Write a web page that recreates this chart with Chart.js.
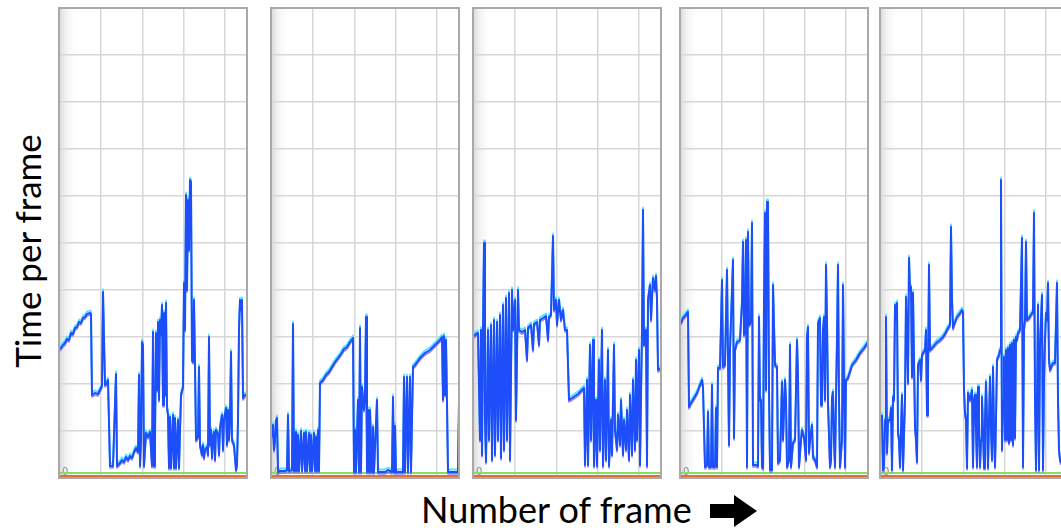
<!DOCTYPE html>
<html>
<head>
<meta charset="utf-8">
<script src="https://cdn.jsdelivr.net/npm/chart.js@4.4.1/dist/chart.umd.min.js"></script>
<style>
  html, body { margin: 0; padding: 0; background: #fff; width: 1061px; height: 528px; overflow: hidden; }
  .panel { position: absolute; top: 6px; width: 192px; height: 474px; }
  .title { position: absolute; font-family: Lato, "Open Sans", sans-serif; color: #000; white-space: nowrap; line-height: 1; }
  #ytitle { font-size: 35px; left: 27px; top: 251px; transform: translate(-50%, -50%) rotate(-90deg); }
  #xtitle { font-size: 36px; left: 421px; top: 491px; }
  #arrow { position: absolute; left: 708px; top: 494px; }
</style>
</head>
<body>
<canvas id="p1" class="panel" width="192" height="474" style="left:57px"></canvas>
<canvas id="p2" class="panel" width="192" height="474" style="left:269px"></canvas>
<canvas id="p3" class="panel" width="192" height="474" style="left:471px"></canvas>
<canvas id="p4" class="panel" width="192" height="474" style="left:678px"></canvas>
<canvas id="p5" class="panel" width="192" height="474" style="left:878px"></canvas>

<div id="ytitle" class="title">Time per frame</div>
<div id="xtitle" class="title">Number of frame</div>
<svg id="arrow" width="52" height="34" viewBox="0 0 52 34">
  <polygon points="2,10 26,10 26,1 49,17 26,33 26,24 2,24" fill="#000"/>
</svg>

<script>
// Frame time captures, five sessions. Time in ms per frame.
const frames1 = [1,4,6,8,10,12,14,16,18,20,22,24,26,28,31,32,33,36,39,41,43,44,46,48,49,51,54,57,58,61,63,65,67,69,71,73,75,77,79,80,81,82,83,84,85,87,89,91,93,94,95,96,97,98,99,100,101,102,103,104,105,106,107,108,109,110,111,112,114,115,116,117,119,120,122,124,125,126,127,128,129,130,131,132,133,134,135,136,137,139,140,141,143,144,145,146,148,149,150,151,152,153,154,155,156,157,159,160,161,163,164,165,167,168,169,170,171,172,173,175,177,178,179,180,181,182,183,184,186,189];
const times1  = [25.8,26.6,27.0,27.8,27.6,29.0,28.8,30.0,30.2,31.2,31.0,32.0,32.2,32.8,33.0,32.8,16.6,17.0,16.8,17.6,18.4,37.2,18.6,19.0,19.6,2.4,2.4,20.8,2.4,3.0,3.6,3.2,4.2,3.6,4.4,4.0,5.2,6.0,5.2,20.6,2.4,7.6,27.2,26.6,2.4,9.0,8.2,9.2,2.4,29.2,2.4,7.6,29.0,17.6,31.2,15.6,31.6,28.6,34.6,14.6,33.0,16.6,35.0,14.2,12.6,2.0,12.2,2.0,12.6,2.0,12.0,2.0,11.6,2.0,16.6,18.2,39.0,29.6,56.6,37.6,55.6,45.6,59.6,59.2,23.6,23.2,35.6,22.8,7.6,8.2,22.2,6.6,4.6,6.6,4.0,5.6,6.2,4.6,28.2,6.6,9.6,4.0,8.2,9.2,3.6,9.6,8.8,4.6,10.0,12.6,5.6,11.6,14.0,6.6,13.6,7.6,11.6,25.2,7.6,6.6,1.6,2.6,11.6,29.6,35.6,33.6,35.6,16.0,16.6,16.8];

const frames2 = [1,2,3,4,5,6,7,9,14,16,17,18,21,22,23,24,25,26,27,28,30,31,33,34,35,36,38,39,40,41,43,44,45,46,47,48,49,52,55,58,61,64,67,70,73,76,79,82,83,84,85,87,88,89,90,91,93,94,95,96,97,98,99,101,102,103,106,107,114,117,121,122,123,124,125,132,133,134,136,137,139,140,142,144,149,154,159,164,169,171,172,173,174,175,176,177,184,187,188];
const times2  = [8.2,10.6,5.6,7.6,11.6,12.0,1.2,1.4,1.4,1.6,12.6,1.4,1.6,30.8,1.4,7.6,9.2,1.4,8.6,1.4,9.4,1.4,9.0,1.4,9.2,1.4,9.0,1.4,8.6,1.4,9.0,1.4,8.2,1.4,9.6,1.4,19.0,19.6,20.6,21.2,22.2,23.2,24.0,24.8,25.8,26.2,27.2,28.0,1.2,9.6,1.2,15.6,1.2,30.0,1.2,18.2,13.6,16.6,32.2,1.2,13.6,1.2,13.6,1.2,10.2,1.2,15.6,1.2,1.2,1.6,1.2,16.2,1.2,10.4,1.2,1.2,20.2,1.2,20.2,1.2,20.2,1.2,22.2,22.6,24.0,25.0,25.6,26.6,27.6,28.2,15.6,28.4,16.6,27.6,15.0,1.2,1.2,1.2,15.2];

const frames3 = [1,3,5,7,8,9,10,11,12,13,15,16,18,19,21,22,24,25,27,28,30,31,33,34,36,37,39,40,42,43,45,46,49,52,54,55,58,60,61,64,66,67,70,73,75,76,78,80,81,83,84,86,88,90,92,94,96,99,102,105,108,111,112,114,115,117,118,120,121,123,124,126,127,129,130,132,133,135,136,138,139,141,142,144,145,147,148,150,151,153,154,156,157,159,160,162,163,164,166,167,169,170,171,173,174,175,177,178,180,182,183,184,185,188];
const times3  = [28.4,28.8,29.0,7.6,29.6,4.6,29.6,47.0,11.6,3.2,29.6,7.6,30.6,3.6,31.6,4.6,31.2,7.6,32.6,4.0,34.6,5.6,36.0,7.6,37.0,3.6,37.6,29.6,35.6,11.6,37.6,29.6,29.2,29.6,23.6,30.0,30.6,25.6,30.8,31.2,26.6,31.6,32.0,32.4,27.6,32.2,32.6,48.4,33.6,35.6,30.6,35.6,31.6,33.6,29.6,29.6,15.6,16.0,16.4,16.8,17.4,18.0,2.6,19.6,2.6,26.6,7.6,27.6,2.4,15.6,2.4,23.6,5.6,29.6,2.4,19.6,3.6,25.6,2.4,11.6,4.6,26.6,9.6,5.6,12.6,6.6,15.6,4.6,11.6,5.6,13.6,3.6,16.6,4.6,19.6,5.6,23.6,7.6,25.6,2.6,29.6,53.6,26.6,29.6,2.4,35.6,38.6,31.6,40.0,37.6,40.4,35.6,21.6,22.0];

const frames4 = [1,3,5,7,8,9,11,14,17,20,22,23,25,27,28,29,31,32,33,35,36,37,38,40,42,43,45,47,49,50,51,53,54,55,57,60,62,63,64,65,66,67,68,69,71,72,73,76,78,79,80,81,82,83,84,85,86,87,88,89,90,92,93,95,97,98,100,102,103,105,106,107,109,110,111,113,115,117,118,119,121,122,124,126,127,128,129,130,132,133,135,137,138,140,141,142,143,144,145,146,147,148,150,151,152,153,154,155,156,157,158,159,160,162,163,164,165,166,168,172,176,180,184,188];
const times4  = [31.0,32.0,32.4,33.0,33.2,14.2,15.0,16.0,17.0,18.6,19.6,18.2,2.2,2.6,13.2,2.2,2.2,18.6,2.2,2.2,14.0,2.2,22.0,22.0,39.6,22.2,22.6,41.6,6.6,25.6,25.6,43.6,8.0,25.6,27.2,27.6,35.2,47.2,28.6,29.6,47.6,2.2,49.2,30.6,31.2,51.0,2.6,2.6,2.4,32.2,15.6,15.6,2.2,2.0,35.6,53.0,17.6,55.2,55.2,17.6,1.6,1.6,38.6,22.6,22.2,3.0,3.6,19.2,7.6,19.6,15.6,2.2,3.6,26.6,2.2,7.0,7.6,27.6,20.2,2.2,7.6,9.6,8.2,3.6,28.2,30.2,5.0,7.6,10.6,4.2,3.6,2.2,31.0,32.0,14.6,14.6,29.6,32.2,15.6,42.6,31.6,15.0,2.2,3.6,16.0,17.2,7.6,2.2,15.6,28.0,42.6,15.6,2.2,7.6,38.6,19.6,2.2,19.6,20.0,22.6,23.6,25.0,26.0,27.2];

const frames5 = [2,3,4,5,6,7,8,10,11,12,13,14,15,16,17,18,19,20,21,22,23,25,26,27,28,29,30,31,32,33,34,35,36,37,38,40,41,42,43,45,46,47,48,49,50,53,57,60,63,66,68,70,71,72,73,75,77,80,82,83,84,85,86,87,88,90,91,92,93,94,95,96,97,98,99,100,101,102,103,104,105,106,107,108,109,110,111,112,113,114,115,116,117,119,120,121,122,123,124,125,126,127,128,129,130,131,132,133,134,135,136,137,138,140,142,143,144,145,146,147,149,152,153,154,155,156,157,158,159,160,161,162,163,164,165,166,167,168,169,170,173,175,177,178,179,180,181];
const times5  = [12.6,1.6,2.6,11.6,32.2,5.0,11.6,11.6,14.0,1.6,16.2,15.6,34.6,31.6,35.0,9.0,7.6,2.2,9.6,16.6,1.6,15.6,36.2,29.6,19.0,44.0,37.6,38.2,20.2,37.0,23.6,10.2,7.6,3.2,22.6,23.6,19.6,24.6,25.0,25.6,29.6,12.6,19.6,42.6,25.6,26.2,27.2,27.6,28.2,29.2,30.0,30.6,50.2,35.6,30.0,31.2,32.2,33.0,33.6,33.2,17.6,13.0,11.6,2.0,17.0,15.6,16.6,17.6,2.2,15.6,16.6,9.6,2.2,18.2,11.6,2.2,7.6,16.2,9.6,2.0,11.6,19.2,11.6,2.0,11.6,20.2,9.6,3.6,22.2,9.6,2.2,11.6,23.6,24.6,25.6,59.6,5.6,15.6,24.2,7.6,25.6,7.6,26.0,7.0,26.6,7.6,27.0,6.6,27.6,8.0,28.2,27.6,29.0,29.6,48.0,2.2,29.6,31.6,47.2,31.6,32.0,33.0,33.0,53.0,15.6,1.6,15.6,34.6,1.6,25.6,31.6,36.6,1.6,19.6,27.6,33.0,31.6,39.0,23.6,21.6,23.0,23.0,39.0,15.6,5.6,3.6,3.0];

// Two budget markers running along the bottom of every panel (ms)
const markerFrames = [0, 190];
const greenMarker  = [1.0, 1.0];
const orangeMarker = [0.4, 0.4];

const sessions = [
  { id: 'p1', frames: frames1, times: times1 },
  { id: 'p2', frames: frames2, times: times2 },
  { id: 'p3', frames: frames3, times: times3 },
  { id: 'p4', frames: frames4, times: times4 },
  { id: 'p5', frames: frames5, times: times5 }
];

const FRAME_SPAN = 188;     // frames visible in a panel
const FRAME_GRID = 41.3;    // frames between vertical grid lines
const TIME_MAX = 94;        // ms at the top of a panel
const TIME_GRID = 9.4;      // ms between horizontal grid lines

const pts = (xs, ys, dy = 0) => xs.map((x, i) => ({ x, y: ys[i] + dy }));

// Shaded left edge, "0" label and frame of each panel
const panelDecor = {
  id: 'panelDecor',
  beforeDraw(chart) {
    const { ctx, chartArea: a } = chart;
    ctx.save();
    const g = ctx.createLinearGradient(a.left, 0, a.left + 19, 0);
    g.addColorStop(0, 'rgba(200,200,200,0.75)');
    g.addColorStop(0.35, 'rgba(225,225,225,0.45)');
    g.addColorStop(1, 'rgba(255,255,255,0)');
    ctx.fillStyle = g;
    ctx.fillRect(a.left, a.top, 19, a.bottom - a.top);
    ctx.restore();
  },
  beforeDatasetsDraw(chart) {
    const { ctx, chartArea: a } = chart;
    ctx.save();
    ctx.font = '10px "DejaVu Sans", sans-serif';
    ctx.fillStyle = '#8c8c8c';
    ctx.textBaseline = 'alphabetic';
    ctx.fillText('0', a.left + 3, a.bottom - 3);
    ctx.restore();
  },
  afterDraw(chart) {
    const { ctx, chartArea: a } = chart;
    ctx.save();
    ctx.strokeStyle = '#a9a9a9';
    ctx.lineWidth = 2;
    ctx.strokeRect(a.left, a.top, a.right - a.left, a.bottom - a.top);
    ctx.restore();
  }
};

sessions.forEach(s => {
  new Chart(document.getElementById(s.id), {
    type: 'line',
    data: {
      datasets: [
        { data: pts(s.frames, s.times), borderColor: 'rgb(30,78,250)', borderWidth: 2 },
        { data: pts(s.frames, s.times, 0.5), borderColor: 'rgba(70,225,255,0.95)', borderWidth: 1.8 },
        { data: pts(s.frames, s.times, -0.4), borderColor: 'rgba(120,95,235,0.8)', borderWidth: 1.6 },
        { data: pts(markerFrames, greenMarker), borderColor: 'rgb(128,226,96)', borderWidth: 2 },
        { data: pts(markerFrames, orangeMarker), borderColor: 'rgb(226,112,48)', borderWidth: 2 }
      ]
    },
    options: {
      responsive: false,
      animation: false,
      devicePixelRatio: 1,
      layout: { padding: { left: 2, right: 2, top: 2, bottom: 2 } },
      plugins: { legend: { display: false }, tooltip: { enabled: false } },
      elements: { point: { radius: 0 }, line: { tension: 0, borderJoinStyle: 'round' } },
      scales: {
        x: {
          type: 'linear', min: 0, max: FRAME_SPAN,
          ticks: { display: false },
          grid: { drawTicks: false, color: '#d7d7d7', lineWidth: 1.5 },
          border: { display: false },
          afterBuildTicks: sc => {
            const t = [];
            for (let v = FRAME_GRID + 0.8; v < FRAME_SPAN; v += FRAME_GRID) t.push({ value: v });
            sc.ticks = t;
          }
        },
        y: {
          type: 'linear', min: 0, max: TIME_MAX,
          ticks: { display: false },
          grid: { drawTicks: false, color: '#d7d7d7', lineWidth: 1.5 },
          border: { display: false },
          afterBuildTicks: sc => {
            const t = [];
            for (let k = 1; k < 10; k++) t.push({ value: k * TIME_GRID });
            sc.ticks = t;
          }
        }
      }
    },
    plugins: [panelDecor]
  });
});
</script>
</body>
</html>
